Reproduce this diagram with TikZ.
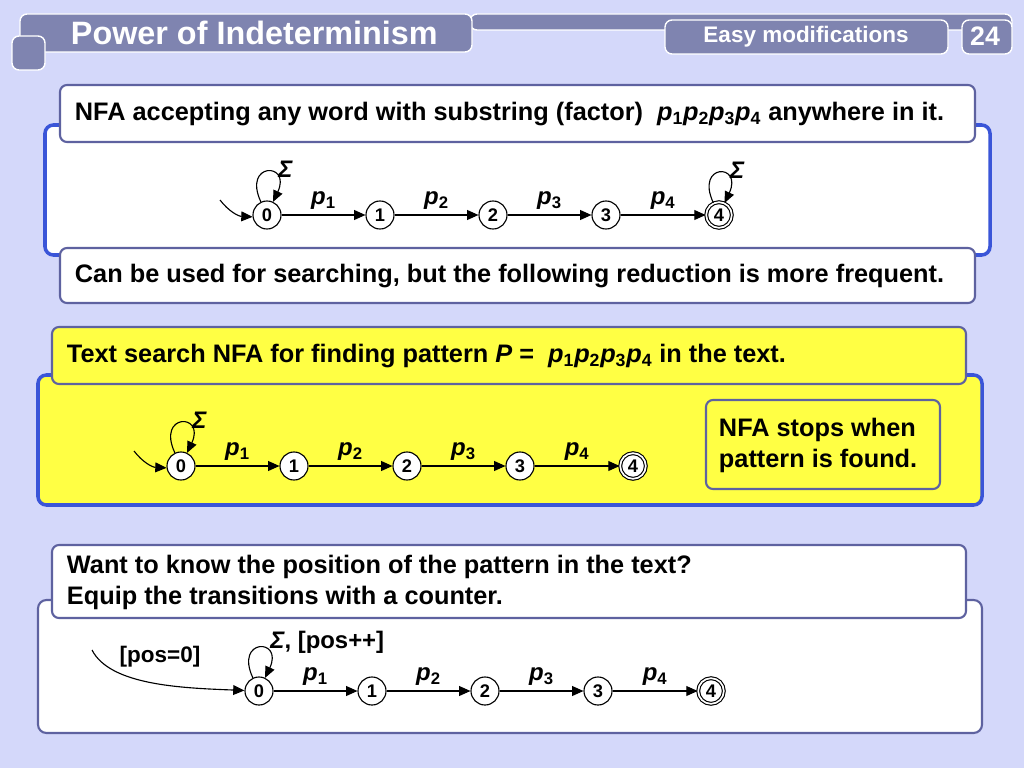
\documentclass[tikz,border=0pt]{standalone}
\usepackage{fontspec}
\setmainfont{Liberation Sans}
\usetikzlibrary{arrows.meta,automata}
\definecolor{bgcol}{HTML}{D4D8FA}
\definecolor{barcol}{HTML}{7F84B0}
\definecolor{panelblue}{HTML}{3A55D8}
\definecolor{boxedge}{HTML}{5E62A0}
\definecolor{yell}{HTML}{FFFF44}
\begin{document}
\begin{tikzpicture}[x=0.025cm,y=-0.025cm,
        every node/.style={font=\fontsize{18}{21}\selectfont\bfseries},
        mystate/.style={circle, draw, thick, fill=white, inner sep=0pt,
            minimum size=0.7cm, font=\fontsize{13}{14}\selectfont\bfseries},
        myaccept/.style={mystate, double, double distance=1.2pt, minimum size=0.64cm},
        trans/.style={-{Triangle[length=8pt,width=7pt]}, thick},
        selfloop/.style={trans, loop above, min distance=1.1cm, out=115, in=65},
        lab/.style={above, font=\fontsize{17}{20}\selectfont\bfseries\itshape},
        sig/.style={pos=0.75, above right, inner sep=1pt, font=\fontsize{17}{20}\selectfont\bfseries},
        panel/.style={draw=panelblue, line width=2.5pt, rounded corners=6pt},
        textbox/.style={draw=boxedge, line width=1.5pt, rounded corners=5pt},
        barbox/.style={fill=barcol, draw=white, line width=1pt, rounded corners=5pt}
    ]
    \fill[bgcol] (0,0) rectangle (1024,768);
    \useasboundingbox (0,0) rectangle (1024,768);

    % header
    \draw[barbox] (470,14) rectangle (1012,30);
    \draw[barbox] (20,14) rectangle (472,52);
    \draw[barbox] (12,36) rectangle (45,70);
    \node[text=white, anchor=west, font=\fontsize{23}{26}\selectfont\bfseries] (title) at (66,33) {Power of Indeterminism};
    \draw[barbox] (665,20) rectangle (948,54);
    \node[text=white, font=\fontsize{16}{18}\selectfont\bfseries] (topic) at (806,37) {Easy modifications};
    \draw[barbox] (962,20) rectangle (1012,54);
    \node[text=white, font=\fontsize{19}{21}\selectfont\bfseries] (page) at (985,36) {24};

    % first panel
    \draw[panel, fill=white] (45,125) rectangle (990,255);
    \draw[textbox, fill=white] (60,85) rectangle (975,142);
    \node[anchor=west] (txta) at (70,114) {NFA accepting any word with substring (factor)\ \ \textit{p}$_{\mathbf 1}$\textit{p}$_{\mathbf 2}$\textit{p}$_{\mathbf 3}$\textit{p}$_{\mathbf 4}$ anywhere in it.};
    \draw[textbox, fill=white] (60,248) rectangle (975,303);
    \node[anchor=west] (txtb) at (70,276) {Can be used for searching, but the following reduction is more frequent.};

    \foreach \n/\x in {0/267,1/380,2/493,3/606}
        \node[mystate] (a\n) at (\x,215) {\n};
    \node[myaccept] (a4) at (719,215) {4};
    \coordinate (ain) at (220,200);
    \draw[trans] (ain) to[bend right=25] (a0);
    \foreach \i/\j in {0/1,1/2,2/3,3/4}
        \draw[trans] (a\i) -- node[lab] {p$_{\mathbf{\j}}$} (a\j);
    \draw[selfloop] (a0) to node[sig] {\textit{Σ}} (a0);
    \draw[selfloop] (a4) to node[sig] {\textit{Σ}} (a4);

    % second panel
    \draw[panel, fill=yell] (38,375) rectangle (982,505);
    \draw[textbox, fill=yell] (52,327) rectangle (966,384);
    \node[anchor=west] (txtc) at (62,356) {Text search NFA for finding pattern \textit{P} =\ \ \textit{p}$_{\mathbf 1}$\textit{p}$_{\mathbf 2}$\textit{p}$_{\mathbf 3}$\textit{p}$_{\mathbf 4}$ in the text.};
    \draw[textbox, fill=yell] (706,400) rectangle (940,489);
    \node[anchor=west, align=left, font=\fontsize{18}{22}\selectfont\bfseries] (stops) at (714,445) {NFA stops when\\pattern is found.};

    \foreach \n/\x in {0/181,1/294,2/407,3/520}
        \node[mystate] (b\n) at (\x,466) {\n};
    \node[myaccept] (b4) at (633,466) {4};
    \coordinate (bin) at (134,451);
    \draw[trans] (bin) to[bend right=25] (b0);
    \foreach \i/\j in {0/1,1/2,2/3,3/4}
        \draw[trans] (b\i) -- node[lab] {p$_{\mathbf{\j}}$} (b\j);
    \draw[selfloop] (b0) to node[sig] {\textit{Σ}} (b0);

    % third panel
    \draw[panel, draw=boxedge, line width=1.5pt, fill=white] (38,600) rectangle (982,733);
    \draw[textbox, fill=white] (52,545) rectangle (966,618);
    \node[anchor=west, align=left, font=\fontsize{18}{22}\selectfont\bfseries] (txtd) at (62,582) {Want to know the position of the pattern in the text?\\Equip the transitions with a counter.};

    \foreach \n/\x in {0/259,1/372,2/485,3/598}
        \node[mystate] (c\n) at (\x,691) {\n};
    \node[myaccept] (c4) at (711,691) {4};
    \coordinate (cin) at (92,650);
    \draw[trans] (cin) .. controls (110,685) and (180,688) .. (c0);
    \node[font=\fontsize{16}{18}\selectfont\bfseries] (posz) at (160,657) {[pos=0]};
    \foreach \i/\j in {0/1,1/2,2/3,3/4}
        \draw[trans] (c\i) -- node[lab] {p$_{\mathbf{\j}}$} (c\j);
    \draw[selfloop] (c0) to node[sig] {\textit{Σ}, [pos++]} (c0);
\end{tikzpicture}
\end{document}
